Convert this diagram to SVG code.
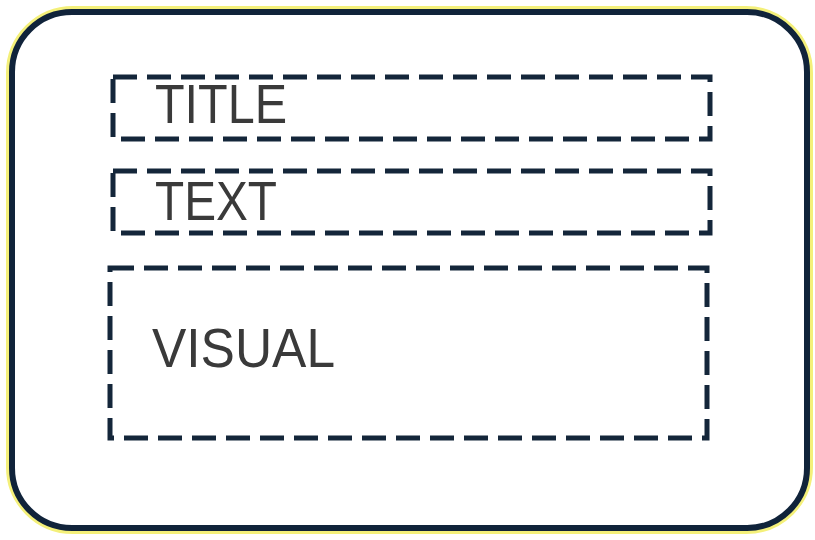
<svg xmlns="http://www.w3.org/2000/svg" width="815" height="540" viewBox="0 0 815 540">
  <style>
    .frame { fill: #ffffff; stroke: #10233a; stroke-width: 6; }
    .halo { fill: none; stroke: #f4f07a; stroke-width: 10; }
    .slot { fill: none; stroke: #14263a; stroke-width: 5; stroke-dasharray: 24 10; }
    .label { font-family: "Liberation Sans", Arial, sans-serif; font-size: 56px; fill: #3a3a3a; }
  </style>
  <rect width="815" height="540" fill="#ffffff"/>
  <!-- outer card -->
  <g id="card">
    <rect class="halo" x="11" y="11" width="797" height="518" rx="62" ry="62"/>
    <rect class="frame" x="12" y="12" width="795" height="516" rx="60" ry="60"/>
  </g>
  <!-- title slot -->
  <g id="title">
    <rect class="slot" x="113" y="77" width="597" height="62"/>
    <text class="label" x="155" y="123" textLength="132" lengthAdjust="spacingAndGlyphs">TITLE</text>
  </g>
  <!-- text slot -->
  <g id="text">
    <rect class="slot" x="113" y="171" width="597" height="62"/>
    <text class="label" x="155" y="220" textLength="122" lengthAdjust="spacingAndGlyphs">TEXT</text>
  </g>
  <!-- visual slot -->
  <g id="visual">
    <rect class="slot" x="110" y="268" width="597" height="170"/>
    <text class="label" x="152" y="367" textLength="183" lengthAdjust="spacingAndGlyphs">VISUAL</text>
  </g>
  <g id="connectors"/>
</svg>
